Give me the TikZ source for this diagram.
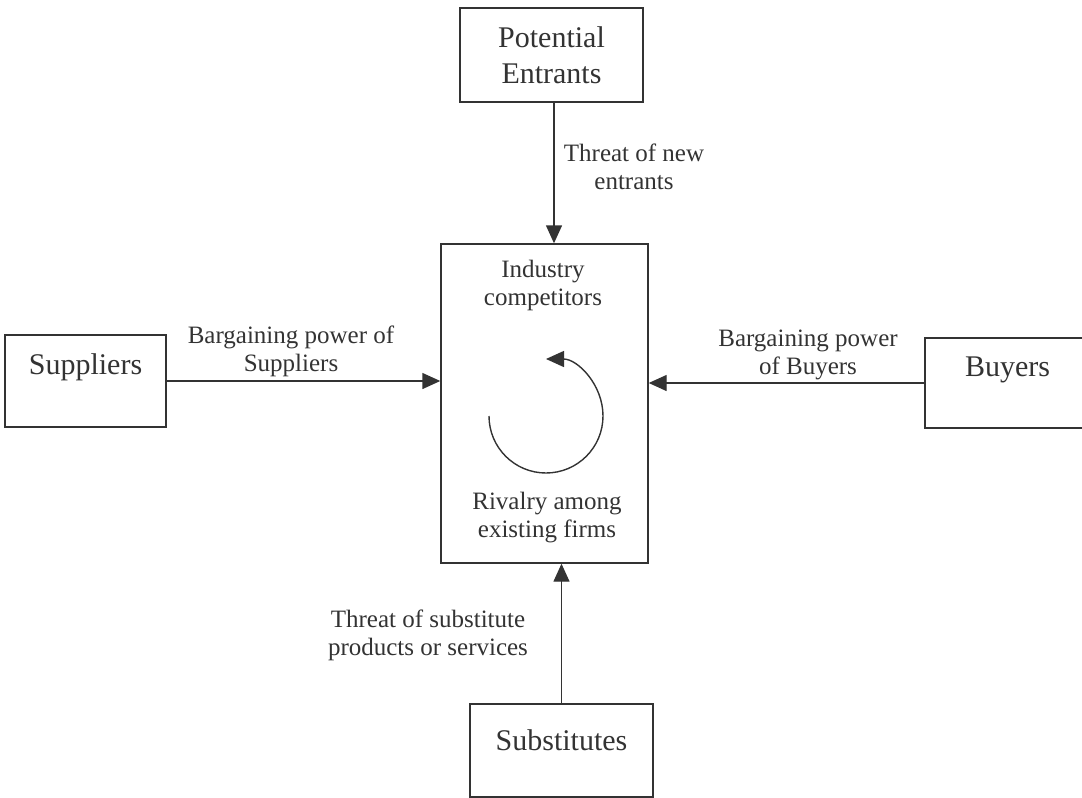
\documentclass[tikz,border=0pt]{standalone}
\usepackage{fontspec}
\setmainfont{Liberation Serif}
\usetikzlibrary{arrows.meta}
\definecolor{ink}{HTML}{333333}

\begin{document}
\begin{tikzpicture}[x=1pt, y=1pt, line width=1.4pt, color=ink,
    box/.style = {draw, rectangle, inner sep=0pt, align=center, font=\fontsize{30}{36}\selectfont},
    txt/.style = {align=center, inner sep=0pt, font=\fontsize{25}{28}\selectfont},
    force/.style = {-{Triangle[length=18pt, width=16pt]}}]
    \useasboundingbox (0,0) rectangle (1082,-798);
    \clip (0,0) rectangle (1082,-798);

    % the five forces
    \node[box, minimum width=183pt, minimum height=94pt] at (551.5,-55) (entrants) {Potential\\Entrants};
    \node[box, minimum width=161pt, minimum height=92pt, text depth=34pt] at (85.5,-381) (suppliers) {Suppliers};
    \node[box, minimum width=165pt, minimum height=90pt, text depth=32pt] at (1007.5,-383) (buyers) {Buyers};
    \node[box, minimum width=183pt, minimum height=93pt, text depth=21pt] at (561.5,-750.5) (substitutes) {Substitutes};
    \node[box, minimum width=207pt, minimum height=319pt] at (544.5,-403.5) (rivalry) {};

    % inside the industry box
    \node[txt] at (543,-285) (competitors) {Industry\\competitors};
    \node[txt] at (547,-518) (among) {Rivalry among\\existing firms};
    \coordinate (cycle) at (546,-416);
    \draw[force] ([xshift=-57pt]cycle) arc[start angle=180, end angle=450, radius=57pt];

    % labels
    \node[txt] at (634,-167) (newentrants) {Threat of new\\entrants};
    \node[txt] at (291,-351) (powersup) {Bargaining power of\\Suppliers};
    \node[txt] at (808,-355) (powerbuy) {Bargaining power\\of Buyers};
    \node[txt] at (428,-635) (substthreat) {Threat of substitute\\products or services};

    \draw[force] ([xshift=2.5pt]entrants.south) -- ([xshift=2.5pt]entrants.south |- rivalry.north);
    \draw[force] (suppliers.east) -- (suppliers.east -| rivalry.west);
    \draw[force] (buyers.west) -- (buyers.west -| rivalry.east);
    \draw[force] (substitutes.north) -- (substitutes.north |- rivalry.south);
\end{tikzpicture}
\end{document}
